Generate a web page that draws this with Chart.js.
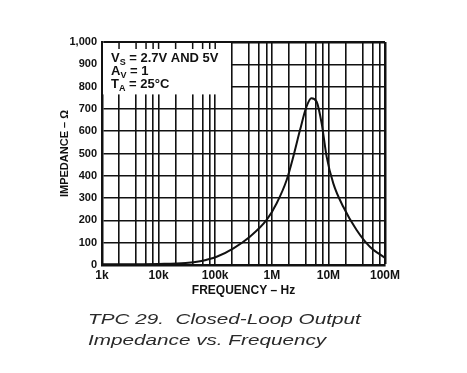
<!DOCTYPE html>
<html>
<head>
<meta charset="utf-8">
<script src="https://cdn.jsdelivr.net/npm/chart.js@4.4.1/dist/chart.umd.min.js"></script>
<style>
  body { margin: 0; background: #fff; }
  #wrap { position: relative; width: 467px; height: 373px; }
  #caption {
    position: absolute; left: 88px; top: 308px;
    font-family: "Liberation Sans", Arial, sans-serif; font-style: italic;
    font-size: 15px; line-height: 21px; color: #2a2a2a;
    transform: scaleX(1.38); transform-origin: left top; white-space: pre;
  }
</style>
</head>
<body>
<div id="wrap">
  <canvas id="impChart" width="467" height="373"></canvas>
  <div id="caption">TPC 29.  Closed-Loop Output
Impedance vs. Frequency</div>
</div>
<script>
const frequencies = [1e3, 1e4, 3e4, 5.4e4, 1.06e5, 2.1e5, 4.1e5, 8.1e5, 1.22e6, 1.83e6, 2.4e6, 3.15e6, 4.1e6, 5.0e6, 6.2e6, 7.6e6, 9.3e6, 1.22e7, 1.83e7, 3.15e7, 5.4e7, 1e8];
const impedance = [3, 5, 9, 17, 37, 75, 127, 202, 277, 381, 486, 605, 710, 748, 732, 635, 486, 366, 261, 157, 82, 32];

const gridFreqs = [];
for (let d = 1e3; d < 1e8; d *= 10) {
  for (const m of [1, 2, 4, 6, 8]) gridFreqs.push(d * m);
}
gridFreqs.push(1e8);

const freqLabels = { 1e3: "1k", 1e4: "10k", 1e5: "100k", 1e6: "1M", 1e7: "10M", 1e8: "100M" };

const notes = [
  ["V", "S", " = 2.7V AND 5V"],
  ["A", "V", " = 1"],
  ["T", "A", " = 25°C"],
];

const FONT = "'Liberation Sans', Arial, sans-serif";

const noteBox = {
  id: "noteBox",
  beforeDatasetsDraw(chart) {
    const { ctx, chartArea, scales } = chart;
    const x = scales.x;
    const right = x.getPixelForValue(1.9e5);
    const bottom = scales.y.getPixelForValue(765);
    ctx.save();
    ctx.fillStyle = "#fff";
    ctx.fillRect(chartArea.left + 1, chartArea.top + 1, right - chartArea.left - 1, bottom - chartArea.top - 1);
    // short ticks at the top border
    ctx.strokeStyle = "#111";
    ctx.lineWidth = 1.5;
    for (const f of gridFreqs) {
      const px = x.getPixelForValue(f);
      if (px > chartArea.left + 2 && px < right) {
        ctx.beginPath();
        ctx.moveTo(px, chartArea.top);
        ctx.lineTo(px, chartArea.top + 7);
        ctx.stroke();
      }
    }
    ctx.fillStyle = "#111";
    let y = chartArea.top + 20;
    for (const [main, sub, rest] of notes) {
      let tx = chartArea.left + 9;
      ctx.font = "bold 13px " + FONT;
      ctx.fillText(main, tx, y);
      tx += ctx.measureText(main).width;
      ctx.font = "bold 9px " + FONT;
      ctx.fillText(sub, tx, y + 3);
      tx += ctx.measureText(sub).width;
      ctx.font = "bold 13px " + FONT;
      ctx.fillText(rest, tx, y);
      y += 13;
    }
    ctx.restore();
  },
};

const ctx = document.getElementById("impChart").getContext("2d");

new Chart(ctx, {
  type: "line",
  data: {
    datasets: [
      {
        data: frequencies.map((f, i) => ({ x: f, y: impedance[i] })),
        borderColor: "#111",
        borderWidth: 2,
        pointRadius: 0,
        cubicInterpolationMode: "monotone",
        fill: false,
      },
    ],
  },
  options: {
    responsive: false,
    devicePixelRatio: 1,
    animation: false,
    layout: { padding: { left: 0, top: 42, right: 82, bottom: 75 } },
    plugins: { legend: { display: false }, tooltip: { enabled: false } },
    scales: {
      x: {
        type: "logarithmic",
        min: 1e3,
        max: 1e8,
        afterBuildTicks: (scale) => {
          scale.ticks = gridFreqs.map((v) => ({ value: v }));
        },
        afterFit: (scale) => {
          scale.height = 33;
        },
        ticks: {
          autoSkip: false,
          maxRotation: 0,
          padding: 3,
          color: "#111",
          font: { family: FONT, size: 12, weight: "bold" },
          callback: (value) => freqLabels[value] || "",
        },
        grid: {
          color: "#111",
          lineWidth: (c) => (c.tick && c.tick.value === 1e8 ? 2.5 : 1.6),
          drawTicks: false,
        },
        border: { color: "#111", width: 2.5 },
        title: {
          display: true,
          text: "FREQUENCY – Hz",
          color: "#111",
          font: { family: FONT, size: 12, weight: "bold" },
          padding: { top: 0, bottom: 0 },
        },
      },
      y: {
        min: 0,
        max: 1000,
        afterFit: (scale) => {
          scale.width = 102;
        },
        ticks: {
          stepSize: 100,
          padding: 5,
          color: "#111",
          font: { family: FONT, size: 11, weight: "bold" },
          callback: (value) => value.toLocaleString("en-US"),
        },
        grid: {
          color: "#111",
          lineWidth: (c) => (c.tick && c.tick.value === 1000 ? 2.5 : 1.6),
          drawTicks: false,
        },
        border: { color: "#111", width: 2.5 },
        title: {
          display: true,
          text: "IMPEDANCE – Ω",
          color: "#111",
          font: { family: FONT, size: 11, weight: "bold" },
          padding: { top: 58, bottom: 0 },
        },
      },
    },
  },
  plugins: [noteBox],
});
</script>
</body>
</html>
